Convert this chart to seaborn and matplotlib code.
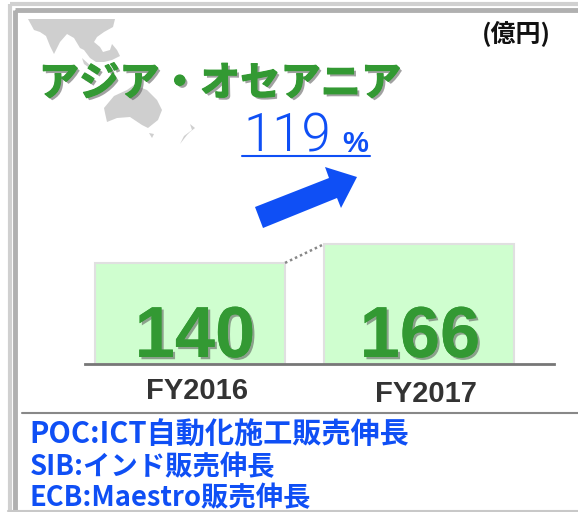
import matplotlib
matplotlib.use("Agg")
import matplotlib.pyplot as plt
import matplotlib.patheffects as pe
from matplotlib.patches import Polygon, Rectangle
import seaborn as sns
import pandas as pd

# values
years = ["FY2016", "FY2017"]
sales = [140, 166]
title = "アジア・オセアニア"
unit = "(億円)"
growth = "119"
notes = ["POC:ICT自動化施工販売伸長", "SIB:インド販売伸長", "ECB:Maestro販売伸長"]

# background decoration traced in pixels (map and growth arrow)
map_shapes = [
    [(28,19),(115,19),(113,27),(104,32),(97,37),(94,42),(100,47),(103,52),(110,50),(112,44),(117,50),(120,56),
     (112,60),(104,62),(96,62),(90,58),(84,50),(80,48),(74,38),(67,34),(60,42),(54,54),(50,46),(46,36),(40,32),(34,30)],
    [(82,58),(92,67),(100,74),(95,72),(84,64)],
    [(104,108),(114,96),(127,90),(134,85),(147,90),(157,100),(162,110),(158,120),(148,128),(142,125),(130,117),
     (117,118),(107,122),(105,113)],
    [(149,133),(154,134),(152,138)],
    [(180,144),(187,135),(190,132),(195,128),(190,124),(192,130),(184,136)],
]
arrow_shape = [(255,207),(263,228),(337,198),(341,208),(357,177),(325,167),(329,178)]

GREEN = "#339933"
BLUE = "#0F4FF5"
JP = ["Noto Sans CJK JP", "DejaVu Sans"]
W, H = 578, 512

sns.set_style("white")
plt.rcParams["font.family"] = JP

fig = plt.figure(figsize=(W / 100, H / 100), dpi=100)

# full figure axes in pixels for everything around the bars
back = fig.add_axes([0, 0, 1, 1], zorder=0)
back.set_xlim(0, W)
back.set_ylim(H, 0)
back.axis("off")

# double frame
back.add_patch(Rectangle((9.5, 4), 700, 700, fill=False, ec="#d0d0d0", lw=3))
back.add_patch(Rectangle((14.5, 10), 700, 700, fill=False, ec="#b0b0b0", lw=3.5))
back.plot([8, W], [510.5, 510.5], color="#c8c8c8", lw=1.5)

for shape in map_shapes:
    back.add_patch(Polygon(shape, closed=True, fc="#cfcfcf", ec="none"))

back.add_patch(Polygon(arrow_shape, closed=True, fc=BLUE, ec="none"))
back.plot([242, 370], [156, 156], color=BLUE, lw=1.5)
back.plot([22, W], [412.7, 412.7], color="#888888", lw=1.5)

# bars
base_px, scale = 364, 0.722
ymax = 188
bar_ax = fig.add_axes([85 / W, (H - base_px) / H, 469 / W, ymax * scale / H], zorder=1)
bar_ax.patch.set_alpha(0)
df = pd.DataFrame({"year": years, "sales": sales})
sns.barplot(data=df, x="year", y="sales", color="#CFFECF", saturation=1, width=0.83,
            edgecolor="#e0e0e0", linewidth=1.5, ax=bar_ax)
bar_ax.set_xlim(-0.4585, 1.5895)
bar_ax.set_ylim(0, ymax)
bar_ax.set_xlabel("")
bar_ax.set_ylabel("")
bar_ax.set_yticks([])
bar_ax.tick_params(axis="x", length=0, labelbottom=False)
sns.despine(ax=bar_ax, left=True)
bar_ax.spines["bottom"].set_color("#777777")
bar_ax.spines["bottom"].set_linewidth(2)

# dotted link between the bar tops
half = 0.83 / 2
bar_ax.plot([0 + half, 1 - half], sales, color="#888888", lw=1.8, ls=(0, (1, 1.2)))

shadow = [pe.withSimplePatchShadow(offset=(1.6, -1.6), shadow_rgbFace="#555555", alpha=0.55), pe.Normal()]
heavy = [pe.withSimplePatchShadow(offset=(1.8, -1.8), shadow_rgbFace="#555555", alpha=0.55),
         pe.withStroke(linewidth=0.9, foreground=GREEN)]

# value and year labels sit a little right of / left of the bar centres
value_dx = [5, 1]
label_dy = [-27, -30]
for i, (year, val) in enumerate(zip(years, sales)):
    bar_ax.annotate(str(val), (i, 0), xytext=(value_dx[i] * 0.72, 7 * 0.72), textcoords="offset points",
                    ha="center", va="baseline", fontsize=52, fontweight="bold", color=GREEN,
                    family="Liberation Sans", path_effects=shadow, annotation_clip=False)
    bar_ax.annotate(year, (i, 0), xytext=(7 * 0.72, label_dy[i] * 0.72), textcoords="offset points",
                    ha="center", va="center", fontsize=21, fontweight="bold", color="#333333",
                    family="Liberation Sans", annotation_clip=False)

# texts on top
front = fig.add_axes([0, 0, 1, 1], zorder=2)
front.set_xlim(0, W)
front.set_ylim(H, 0)
front.axis("off")

front.text(220, 84, title, ha="center", va="center", fontsize=29, fontweight="bold", color=GREEN,
           path_effects=heavy)
front.text(516, 33, unit, ha="center", va="center", fontsize=18, fontweight="bold", color="#111111")
front.text(243, 152, growth, ha="left", va="baseline", fontsize=38, fontweight=300, color=BLUE,
           family="Roboto")
front.text(355, 152, "%", ha="center", va="baseline", fontsize=21, fontweight="bold", color=BLUE,
           family="Liberation Sans")

note_y = [444, 475, 506.5]
note_size = [21, 19.7, 19.7]
for y, size, note in zip(note_y, note_size, notes):
    front.text(29.5, y, note, ha="left", va="baseline", fontsize=size, fontweight="bold", color=BLUE)

fig.savefig("out.png", dpi=100)
